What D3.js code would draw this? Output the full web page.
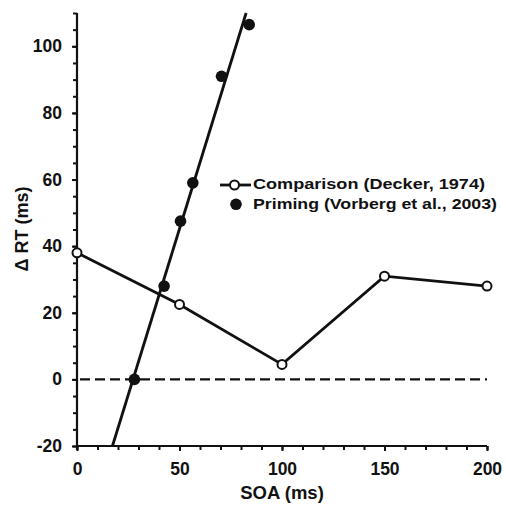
<!DOCTYPE html>
<html>
<head>
<meta charset="UTF-8">
<title>Delta RT vs SOA</title>
<script src="https://d3js.org/d3.v7.min.js"></script>
<style>
  body { margin: 0; background: #fff; }
  text { font-family: "Liberation Sans", Arial, sans-serif; font-weight: bold; fill: #111; }
</style>
</head>
<body>
<script>
// comparison data (Decker, 1974)
var compSOA = [0, 50, 100, 150, 200];
var compRT = [38, 22.5, 4.5, 31, 28];

// priming data (Vorberg et al., 2003)
var primSOA = [28, 42.5, 50.5, 56.5, 70.5, 84];
var primRT = [0, 28, 47.5, 59, 91, 106.5];

// fitted line endpoints
var fitSOA = [17.3, 82.5];
var fitRT = [-20, 110];

var legendNames = ["Comparison (Decker, 1974)", "Priming (Vorberg et al., 2003)"];
var xMajor = [0, 50, 100, 150, 200];
var yMajor = [-20, 0, 20, 40, 60, 80, 100];

var W = 506, H = 505;
var margin = {left: 77, right: 19, top: 13, bottom: 59};

var svg = d3.select("body").append("svg")
    .attr("width", W)
    .attr("height", H);

var x = d3.scaleLinear().domain([0, 200]).range([margin.left, W - margin.right]);
var y = d3.scaleLinear().domain([-20, 110]).range([H - margin.bottom, margin.top]);

var ink = "#111";
var plain = function(d){ return String(d); };  // keep the plain hyphen for negatives

// y axis: minor ticks every 5, labels every 20
var yMinor = svg.append("g")
    .attr("transform", "translate(" + margin.left + ",0)")
    .call(d3.axisLeft(y).tickValues(d3.range(-20, 111, 5)).tickSize(4).tickFormat(""));
var yAx = svg.append("g")
    .attr("transform", "translate(" + margin.left + ",0)")
    .call(d3.axisLeft(y).tickValues(yMajor).tickSize(5).tickPadding(10).tickFormat(plain));
yAx.selectAll("text").style("font-size", "17.5px");

// x axis
var xMinor = svg.append("g")
    .attr("transform", "translate(0," + y(-20) + ")")
    .call(d3.axisBottom(x).tickValues(d3.range(0, 201, 10)).tickSize(4).tickFormat(""));
var xAx = svg.append("g")
    .attr("transform", "translate(0," + y(-20) + ")")
    .call(d3.axisBottom(x).tickValues(xMajor).tickSize(5).tickPadding(12).tickFormat(plain));
xAx.selectAll("text").style("font-size", "17.5px");

svg.selectAll(".domain").attr("stroke", ink).attr("stroke-width", 2.2);
svg.selectAll(".tick line").attr("stroke", ink).attr("stroke-width", 2);
// only one set of domain lines needed
yMinor.select(".domain").remove();
xMinor.select(".domain").remove();
yAx.select(".domain").attr("d", "M0," + (y(-20) + 4) + "V" + y(110));
xAx.select(".domain").attr("d", "M" + x(0) + ",0H" + x(200));

// zero line
svg.append("line")
    .attr("x1", x(0) + 3).attr("x2", x(200))
    .attr("y1", y(0)).attr("y2", y(0))
    .attr("stroke", ink)
    .attr("stroke-width", 2.2)
    .attr("stroke-dasharray", "10,5");

// fit line through priming points
var line = d3.line().x(function(d){ return x(d[0]); }).y(function(d){ return y(d[1]); });
svg.append("path")
    .attr("d", line(d3.zip(fitSOA, fitRT)))
    .attr("fill", "none")
    .attr("stroke", ink)
    .attr("stroke-width", 2.8);

// comparison line
var comp = d3.zip(compSOA, compRT);
svg.append("path")
    .attr("d", line(comp))
    .attr("fill", "none")
    .attr("stroke", ink)
    .attr("stroke-width", 2.8);
svg.selectAll(".comp").data(comp).enter().append("circle")
    .attr("class", "comp")
    .attr("cx", function(d){ return x(d[0]); })
    .attr("cy", function(d){ return y(d[1]); })
    .attr("r", 4.5)
    .attr("fill", "#fff")
    .attr("stroke", ink)
    .attr("stroke-width", 2);

var prim = d3.zip(primSOA, primRT);
svg.selectAll(".prim").data(prim).enter().append("circle")
    .attr("class", "prim")
    .attr("cx", function(d){ return x(d[0]); })
    .attr("cy", function(d){ return y(d[1]); })
    .attr("r", 5.8)
    .attr("fill", ink);

// legend
var lg = svg.append("g");
lg.append("line")
    .attr("x1", 220).attr("x2", 251)
    .attr("y1", 185).attr("y2", 185)
    .attr("stroke", ink).attr("stroke-width", 2.8);
lg.append("circle")
    .attr("cx", 234.5).attr("cy", 185).attr("r", 4.5)
    .attr("fill", "#fff").attr("stroke", ink).attr("stroke-width", 2);
lg.append("circle")
    .attr("cx", 236).attr("cy", 204.3).attr("r", 5.8)
    .attr("fill", ink);
lg.selectAll("text").data(legendNames).enter().append("text")
    .attr("x", 253)
    .attr("y", function(d, i){ return 189.3 + i * 20; })
    .attr("textLength", function(d, i){ return i === 0 ? 232 : 244; })
    .attr("lengthAdjust", "spacingAndGlyphs")
    .style("font-size", "14.5px")
    .text(function(d){ return d; });

// axis titles
svg.append("text")
    .attr("x", (x(0) + x(200)) / 2)
    .attr("y", 499)
    .attr("text-anchor", "middle")
    .style("font-size", "18.5px")
    .text("SOA (ms)");
svg.append("text")
    .attr("transform", "translate(28," + 229 + ") rotate(-90)")
    .attr("text-anchor", "middle")
    .style("font-size", "18px")
    .text("\u0394 RT (ms)");
</script>
</body>
</html>
